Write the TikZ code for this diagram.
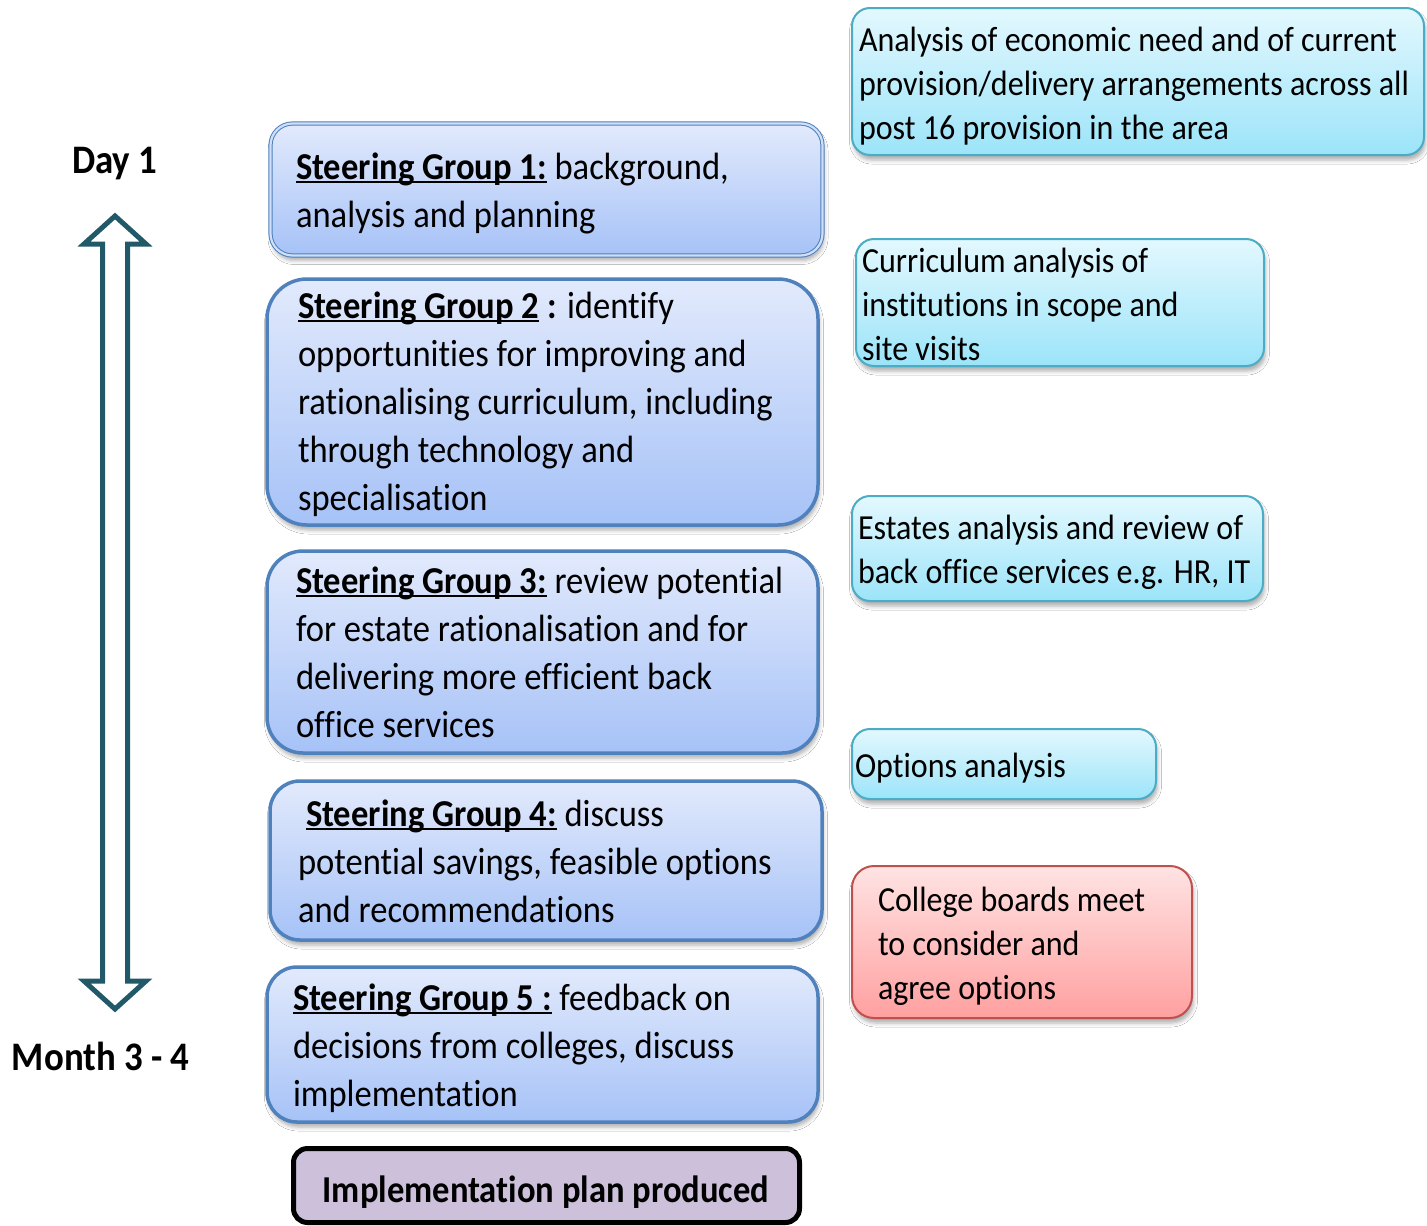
\documentclass[tikz,border=0pt]{standalone}
\usepackage{fontspec}
\setmainfont{Carlito}[FakeStretch=0.91,Ligatures=NoCommon]
\usetikzlibrary{shadows.blur}
\definecolor{accblue}{HTML}{4F81BD}
\definecolor{sgtop}{HTML}{E2EAFC}
\definecolor{sgbot}{HTML}{A6C2F7}
\definecolor{cyborder}{HTML}{4BACC6}
\definecolor{cytop}{HTML}{E3F8FE}
\definecolor{cybot}{HTML}{9CE4F9}
\definecolor{rdborder}{HTML}{C0504D}
\definecolor{rdtop}{HTML}{FFE3E3}
\definecolor{rdbot}{HTML}{FFA0A0}
\definecolor{implfill}{HTML}{CCC0DA}
\definecolor{arrowcol}{HTML}{215968}
\newcommand\wul[1]{\setbox0\hbox{#1}\rlap{\rule[-3.8pt]{\wd0}{2pt}}\box0}
\newcommand\bigtxt[1]{\parbox[t]{560pt}{\raggedright\fontsize{38}{48}\selectfont #1}}
\newcommand\smtxt[1]{\parbox[t]{580pt}{\raggedright\fontsize{35.2}{44}\selectfont #1}}
\begin{document}
\begin{tikzpicture}[x=1pt,y=-1pt,
  shd/.style={blur shadow={shadow xshift=1.5pt,shadow yshift=-5pt,shadow blur radius=4pt,shadow opacity=32}},
  boxbase/.style={anchor=north west,inner sep=0pt,outer sep=0pt,shd},
  sgbox/.style={boxbase,draw=accblue,line width=3.5pt,top color=sgtop,bottom color=sgbot,rounded corners=#1},
  cybox/.style={boxbase,draw=cyborder,line width=2pt,top color=cytop,bottom color=cybot,rounded corners=18pt},
  rdbox/.style={boxbase,draw=rdborder,line width=2pt,top color=rdtop,bottom color=rdbot,rounded corners=22pt},
  implbox/.style={anchor=north west,inner sep=0pt,outer sep=0pt,draw=black,line width=5pt,fill=implfill,rounded corners=14pt},
  txt/.style={anchor=base west,inner sep=0pt,outer sep=0pt,text=black}]
\useasboundingbox (0,0) rectangle (1427,1226);
\fill[white] (0,0) rectangle (1427,1226);

% timeline arrow
\draw[arrowcol,line width=5pt,fill=white,line join=miter]
  (115,216) -- (146,244) -- (127.5,244) -- (127.5,981) -- (146,981) -- (115,1009)
  -- (84,981) -- (102.5,981) -- (102.5,244) -- (84,244) -- cycle;
\node[txt] (day1) at (72,173) {\fontsize{40.5}{44}\selectfont\bfseries Day 1};
\node[txt] (month) at (12,1070) {\fontsize{40.5}{44}\selectfont\bfseries Month 3 - 4};

% steering group boxes
\node[sgbox=22pt,line width=1pt,double=sgtop!70!sgbot,double distance=2.2pt,minimum width=552pt,minimum height=132pt] (b1) at (270.5,123.5) {};
\node[txt] (t1) at (296,179) {\bigtxt{\textbf{\wul{Steering Group 1:}} background,\\analysis and planning}};

\node[sgbox=40pt,minimum width=551pt,minimum height=246pt] (b2) at (267,279) {};
\node[txt] (t2) at (298,318.5) {\bigtxt{\textbf{\wul{Steering Group 2}\ :} identify\\opportunities for improving and\\rationalising curriculum, including\\through technology and\\specialisation}};

\node[sgbox=36pt,minimum width=551pt,minimum height=202pt] (b3) at (267,551) {};
\node[txt] (t3) at (296,593) {\bigtxt{\textbf{\wul{Steering Group 3:}} review potential\\for estate rationalisation and for\\delivering more efficient back\\office services}};

\node[sgbox=30pt,minimum width=552pt,minimum height=159pt] (b4) at (270,781) {};
\node[txt] (t4) at (298,826) {\bigtxt{\hspace*{8pt}\textbf{\wul{Steering Group 4:}} discuss\\potential savings, feasible options\\and recommendations}};

\node[sgbox=30pt,minimum width=551pt,minimum height=155pt] (b5) at (267,967) {};
\node[txt] (t5) at (293,1010) {\bigtxt{\textbf{\wul{Steering Group 5 :}} feedback on\\decisions from colleges, discuss\\implementation}};

\node[implbox,minimum width=506pt,minimum height=74pt] (b6) at (293.5,1148.5) {};
\node[anchor=base,inner sep=0pt] (t6) at (546,1202) {\fontsize{38}{44}\selectfont\bfseries Implementation plan produced};

% right-hand boxes
\node[cybox,minimum width=572pt,minimum height=147pt] (r1) at (852,8) {};
\node[txt] (s1) at (859,51) {\smtxt{Analysis of economic need and of current\\provision/delivery arrangements across all\\post 16 provision in the area}};

\node[cybox,minimum width=408pt,minimum height=127pt] (r2) at (856,239) {};
\node[txt] (s2) at (862,272) {\smtxt{Curriculum analysis of\\institutions in scope and\\site visits}};

\node[cybox,minimum width=411pt,minimum height=105pt] (r3) at (852,496) {};
\node[txt] (s3) at (858,539) {\smtxt{Estates analysis and review of\\back office services e.g. HR, IT}};

\node[cybox,minimum width=304pt,minimum height=70pt] (r4) at (852,729) {};
\node[txt] (s4) at (855,777) {\smtxt{Options analysis}};

\node[rdbox,minimum width=340pt,minimum height=152pt] (r5) at (852,866) {};
\node[txt] (s5) at (878,911) {\smtxt{College boards meet\\to consider and\\agree options}};
\end{tikzpicture}
\end{document}
